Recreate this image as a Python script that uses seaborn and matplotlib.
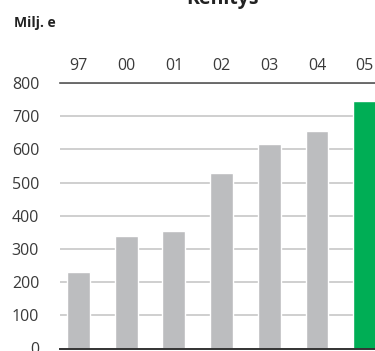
import matplotlib
matplotlib.use("Agg")
import matplotlib.pyplot as plt
import seaborn as sns

years = ["97", "00", "01", "02", "03", "04", "05"]
values = [230, 338, 353, 528, 615, 655, 745]
bar_colors = ["#bcbdbf"] * 6 + ["#00ae55"]
y_ticks = [0, 100, 200, 300, 400, 500, 600, 700, 800]

sns.set_style("white")
plt.rcParams["font.family"] = ["Open Sans", "DejaVu Sans"]

W, H = 375, 351
fig = plt.figure(figsize=(W / 100, H / 100), dpi=100)
ax = fig.add_axes([60 / W, 1 - 348.5 / H, 315 / W, (348.5 - 83) / H])

sns.barplot(x=years, y=values, hue=years, palette=bar_colors, legend=False,
            width=0.48, saturation=1, ax=ax, zorder=2)

ax.set_ylim(0, 800)
ax.set_xlim(-0.388, 6.216)
ax.set_yticks(y_ticks)
ax.set_yticklabels([str(v) for v in y_ticks])
ax.yaxis.grid(True, color="#cfcfcf", linewidth=1.4, zorder=0)
ax.set_axisbelow(True)

ax.xaxis.tick_top()
ax.tick_params(axis="x", length=0, pad=6.5, labelsize=11.5, colors="#3a3a3a")
ax.tick_params(axis="y", length=0, pad=15, labelsize=11.5, colors="#3a3a3a")
ax.set_xlabel("")
ax.set_ylabel("")

for side in ["left", "right"]:
    ax.spines[side].set_visible(False)
ax.spines["top"].set_color("#555555")
ax.spines["top"].set_linewidth(1.2)
ax.spines["bottom"].set_color("#333333")
ax.spines["bottom"].set_linewidth(1.4)

fig.text(222 / W, 1 - 4 / H, "Kehitys", ha="center", va="baseline",
         fontsize=14, fontweight="bold", color="#222222")
fig.text(14 / W, 1 - 27 / H, "Milj. e", ha="left", va="baseline",
         fontsize=10, fontweight="bold", color="#222222")

fig.savefig("out.png", dpi=100)
